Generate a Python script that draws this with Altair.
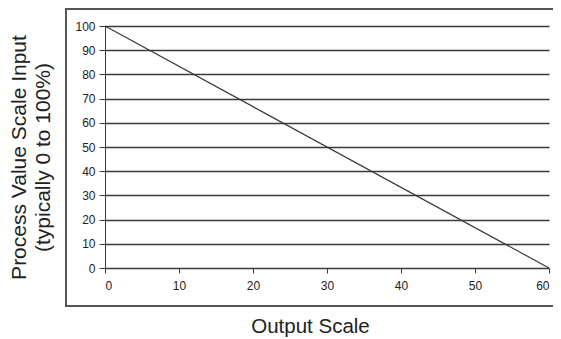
import altair as alt
import pandas as pd

output_scale = [0, 60]
pv_input = [100, 0]
x_ticks = [0, 10, 20, 30, 40, 50, 60]
y_ticks = [0, 10, 20, 30, 40, 50, 60, 70, 80, 90, 100]

df = pd.DataFrame({"x": output_scale, "y": pv_input})

FONT = "Liberation Sans"
DARK = "#3a3a3a"
TEXT = "#222222"

frame = alt.Chart(df).mark_rect(
    filled=False, stroke="#555555", strokeWidth=1.8, clip=False
).encode(
    x=alt.value(-39), x2=alt.value(470), y=alt.value(-17), y2=alt.value(280)
)

line = alt.Chart(df).mark_line(color=DARK, strokeWidth=1.2).encode(
    x=alt.X("x:Q", scale=alt.Scale(domain=[0, 60], nice=False),
            axis=alt.Axis(values=x_ticks, title="Output Scale", grid=False,
                          domainColor=DARK, tickColor=DARK, tickSize=5,
                          labelFontSize=12, labelColor=TEXT, labelPadding=7,
                          titleFontSize=20.5, titleFontWeight="normal",
                          titleColor=TEXT, titleX=205, titleY=64,
                          titleAlign="center", titleBaseline="alphabetic")),
    y=alt.Y("y:Q", scale=alt.Scale(domain=[0, 100], nice=False),
            axis=alt.Axis(values=y_ticks,
                          title=["Process Value Scale Input", "(typically 0 to 100%)"],
                          grid=True, gridColor=DARK, gridWidth=1.6, gridOpacity=1,
                          domainColor=DARK, tickColor=DARK, tickSize=6,
                          labelFontSize=12, labelColor=TEXT, labelPadding=4,
                          titleFontSize=21, titleFontWeight="normal",
                          titleColor=TEXT, titleX=-80, titleY=131,
                          titleAngle=-90, titleAlign="center",
                          titleBaseline="alphabetic", titleLineHeight=24)),
)

chart = alt.layer(frame, line).properties(
    width=444, height=242,
    autosize=alt.AutoSizeParams(type="none"),
    padding={"left": 97, "top": 18, "right": 4, "bottom": 71},
).configure(font=FONT).configure_view(stroke=None)

chart.save("out.html", embed_options={"renderer": "svg", "actions": False})
